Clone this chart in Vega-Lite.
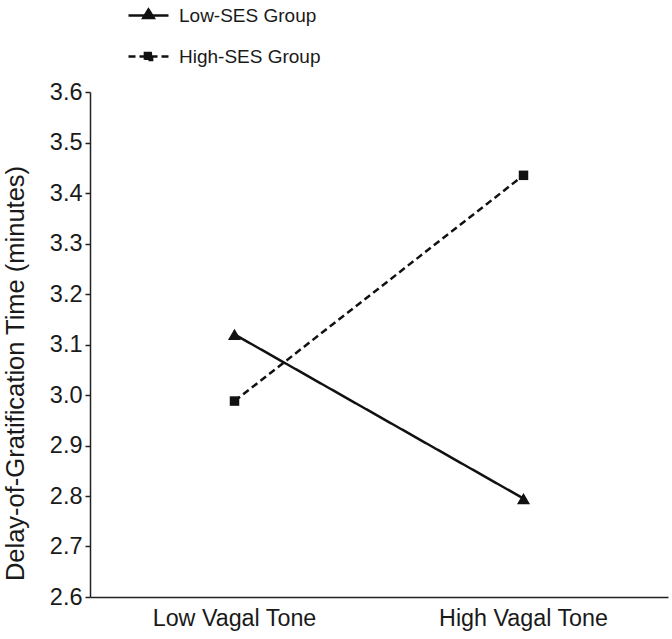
{
  "$schema": "https://vega.github.io/schema/vega-lite/v6.json",
  "width": 578,
  "height": 505,
  "autosize": {"type": "none"},
  "padding": {"left": 90, "top": 92, "right": 4, "bottom": 42},
  "background": "white",
  "config": {
    "font": "Liberation Sans, Arial, sans-serif",
    "view": {"stroke": null},
    "axis": {"grid": false, "domainColor": "#222", "tickColor": "#222", "labelColor": "#1a1a1a", "titleColor": "#1a1a1a", "labelFontSize": 23.5, "titleFontSize": 25.5, "titleFontWeight": "normal"}
  },
  "data": {
    "values": [
      {"group": "Low-SES Group", "tone": "Low Vagal Tone", "delay": 3.12},
      {"group": "Low-SES Group", "tone": "High Vagal Tone", "delay": 2.795},
      {"group": "High-SES Group", "tone": "Low Vagal Tone", "delay": 2.988},
      {"group": "High-SES Group", "tone": "High Vagal Tone", "delay": 3.435}
    ]
  },
  "encoding": {
    "x": {
      "field": "tone", "type": "nominal", "sort": ["Low Vagal Tone", "High Vagal Tone"],
      "scale": {"type": "band", "paddingInner": 0, "paddingOuter": 0},
      "axis": {"title": null, "labelAngle": 0, "ticks": false, "labelPadding": 10, "domainWidth": 1.5, "labelFontSize": 23.3}
    },
    "y": {
      "field": "delay", "type": "quantitative",
      "scale": {"domain": [2.6, 3.6], "nice": false, "zero": false},
      "axis": {"title": "Delay-of-Gratification Time (minutes)", "values": [2.6, 2.7, 2.8, 2.9, 3.0, 3.1, 3.2, 3.3, 3.4, 3.5, 3.6], "format": ".1f", "tickSize": 5, "labelPadding": 3, "domainWidth": 1.5, "tickWidth": 1.5, "titleX": -62, "titleY": 281, "titleAlign": "center", "titleAngle": -90, "titleBaseline": "bottom"}
    }
  },
  "layer": [
    {
      "mark": {"type": "line", "color": "#111", "strokeWidth": 2.5},
      "encoding": {
        "strokeDash": {
          "field": "group", "type": "nominal",
          "scale": {"domain": ["Low-SES Group", "High-SES Group"], "range": [[1, 0], [7, 4]]},
          "legend": {
            "title": null, "orient": "none", "legendX": 37, "legendY": -98,
            "symbolType": "M-1,0H1", "symbolSize": 1600, "symbolStrokeWidth": 2.5,
            "symbolStrokeColor": "#111", "symbolFillColor": "#111",
            "labelFontSize": 19, "labelColor": "#1a1a1a", "labelOffset": 9, "rowPadding": 9, "padding": 0,
            "encode": {
              "symbols": {
                "update": {
                  "shape": {"signal": "datum.value === 'Low-SES Group' ? 'M-1,0H1M-0.26,0.12L0,-0.3L0.26,0.12Z' : 'M-1,0H1M-0.18,-0.18H0.18V0.18H-0.18Z'"},
                  "fill": {"value": "#111"},
                  "stroke": {"value": "#111"}
                }
              }
            }
          }
        }
      }
    },
    {
      "transform": [{"filter": "datum.group === 'Low-SES Group'"}],
      "mark": {"type": "point", "shape": "triangle-up", "filled": true, "color": "#111", "opacity": 1, "size": 170}
    },
    {
      "transform": [{"filter": "datum.group === 'High-SES Group'"}],
      "mark": {"type": "point", "shape": "square", "filled": true, "color": "#111", "opacity": 1, "size": 90}
    }
  ]
}
